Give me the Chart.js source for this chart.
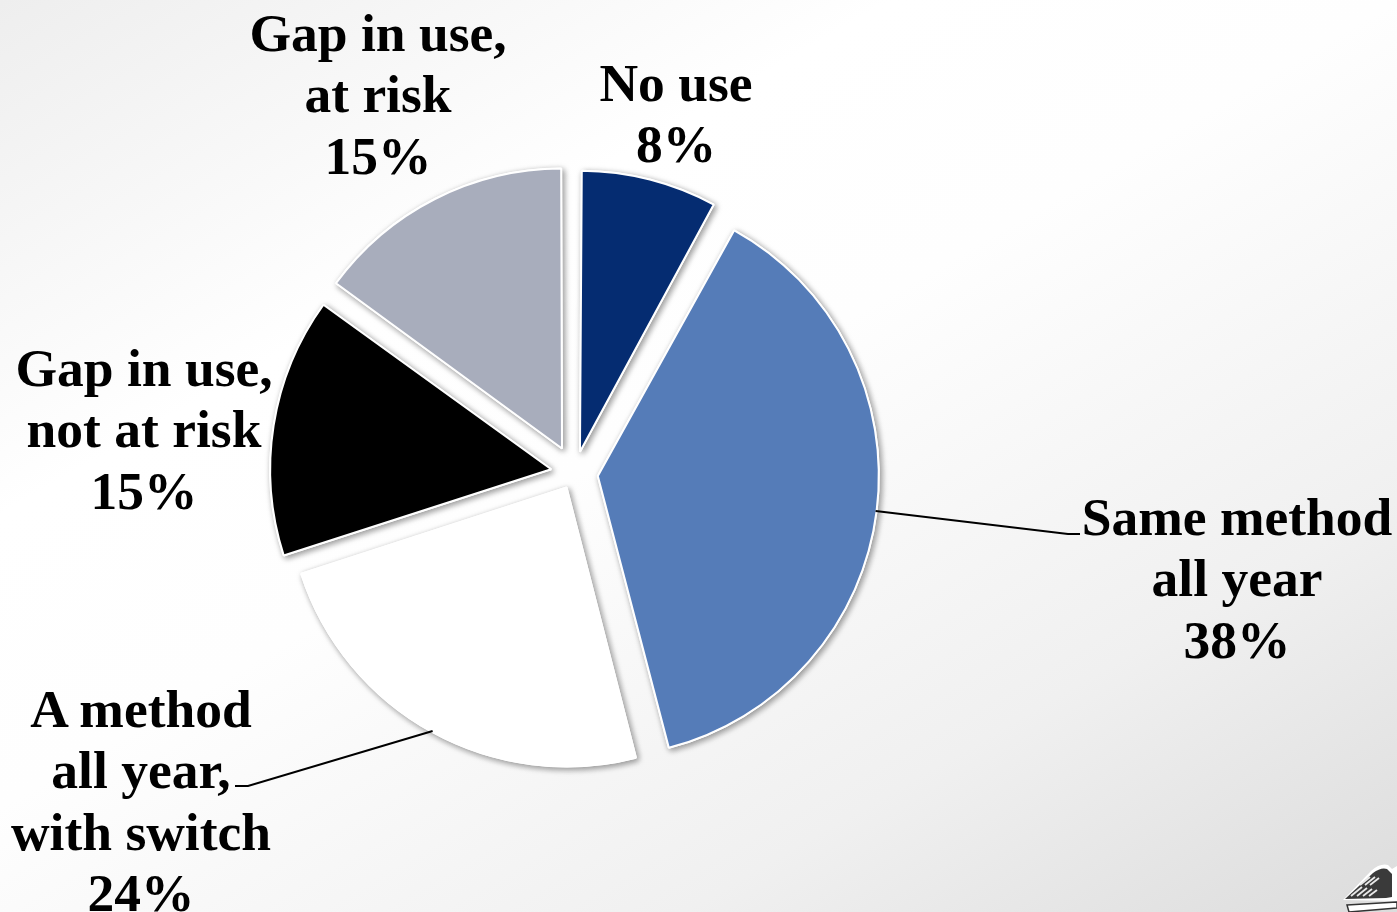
<!DOCTYPE html>
<html>
<head>
<meta charset="utf-8">
<title>Contraceptive use over the year</title>
<script src="https://cdn.jsdelivr.net/npm/chart.js@4/dist/chart.umd.min.js"></script>
<style>
    html, body { margin: 0; padding: 0; width: 1397px; height: 912px; overflow: hidden; }
    #wrap {
        position: relative; width: 1397px; height: 912px;
        background: linear-gradient(150deg, #eeeeee 0%, #ffffff 30%, #fefefe 47%, #f0f0f0 76%, #dcdcdc 100%);
    }
    #emblem { position: absolute; left: 1340px; top: 860px; }
</style>
</head>
<body>
<div id="wrap">
    <canvas id="myChart" width="1397" height="912"></canvas>
    <svg id="emblem" width="57" height="52" viewBox="0 0 57 52">
        <path d="M3 40 L31 11 Q40 3 48 5 L52 9 L57 6 L57 41 Z" fill="#ffffff"/>
        <path d="M5 39 L33 13 Q41 7 47 9 L52 14 L52 37 L46 38 Z" fill="#3a3a3a"/>
        <g stroke="#e8e8e8" stroke-width="1.8">
            <line x1="11" y1="36" x2="22" y2="27"/>
            <line x1="17" y1="36" x2="27" y2="28"/>
            <line x1="23" y1="36" x2="32" y2="29"/>
            <line x1="29" y1="36" x2="37" y2="30"/>
            <line x1="20" y1="25" x2="30" y2="17"/>
            <line x1="25" y1="25" x2="35" y2="17"/>
            <line x1="30" y1="25" x2="39" y2="18"/>
        </g>
        <path d="M7 45 L57 42 L57 48 L9 52 Z" fill="#ffffff" stroke="#333333" stroke-width="1.5"/>
    </svg>
</div>
<script>
// Fatias do gráfico, no sentido horário a partir do topo
const categories = [
    ['No use'],
    ['Same method', 'all year'],
    ['A method', 'all year,', 'with switch'],
    ['Gap in use,', 'not at risk'],
    ['Gap in use,', 'at risk']
];
const percentages = [8, 38, 24, 15, 15];
const sliceColors = ['#052c71', '#557cb8', '#ffffff', '#000000', '#a8adbc'];
const sliceShift = [22, 23.5, 16.5, 23.6, 27.5];
const sliceRadius = [281, 281, 279, 281, 280];

// Centro do texto e linha de base da primeira linha de cada rótulo
const labelAnchors = [
    { x: 676, y: 101 },
    { x: 1237, y: 535 },
    { x: 141, y: 727 },
    { x: 144, y: 386 },
    { x: 378, y: 51 }
];
const labelLineHeight = 61.3;

// Linhas de chamada: fatia de origem e os dois pontos até o rótulo
const leaderLines = [
    { slice: 1, points: [[1068, 534], [1080, 534]] },
    { slice: 2, points: [[248, 786], [235, 786]] }
];

// O arco cresce junto com o offset conforme o ângulo da fatia; o raio é
// compensado aqui para cada fatia ficar com o tamanho certo
const evenRadius = {
    id: 'evenRadius',
    afterDatasetsUpdate(chart) {
        chart.getDatasetMeta(0).data.forEach((arc, i) => {
            const growth = 1 - Math.sin(Math.min(Math.PI, arc.circumference));
            arc.outerRadius = sliceRadius[i] - sliceShift[i] * growth;
        });
    }
};

// Primeira passada só para a sombra; o desenho normal vem por cima e
// cobre a parte que cairia dentro das fatias
const sliceShadow = {
    id: 'sliceShadow',
    beforeDatasetsDraw(chart) {
        const c = chart.ctx;
        c.save();
        c.shadowColor = 'rgba(0,0,0,0.4)';
        c.shadowBlur = 6;
        c.shadowOffsetX = 2;
        c.shadowOffsetY = 2;
        chart.getDatasetMeta(0).data.forEach(arc => arc.draw(c));
        c.restore();
    }
};

// Rótulos e linhas de chamada
const sliceLabels = {
    id: 'sliceLabels',
    afterDraw(chart) {
        const c = chart.ctx;
        const arcs = chart.getDatasetMeta(0).data;
        c.save();

        c.strokeStyle = '#000000';
        c.lineWidth = 2;
        leaderLines.forEach(l => {
            const arc = arcs[l.slice];
            const mid = (arc.startAngle + arc.endAngle) / 2;
            const r = sliceRadius[l.slice] + sliceShift[l.slice] - 1;
            c.beginPath();
            c.moveTo(arc.x + Math.cos(mid) * r, arc.y + Math.sin(mid) * r);
            l.points.forEach(p => c.lineTo(p[0], p[1]));
            c.stroke();
        });

        c.fillStyle = '#000000';
        c.font = 'bold 53.5px "Liberation Serif"';
        c.fontKerning = 'normal';
        c.textAlign = 'center';
        c.textBaseline = 'alphabetic';
        categories.forEach((lines, i) => {
            const a = labelAnchors[i];
            lines.concat(percentages[i] + '%').forEach((t, n) => {
                c.fillText(t, a.x, a.y + n * labelLineHeight);
            });
        });
        c.restore();
    }
};

var ctx = document.getElementById('myChart').getContext('2d');
var myChart = new Chart(ctx, {
    type: 'pie',
    data: {
        labels: categories,
        datasets: [{
            data: percentages,
            backgroundColor: sliceColors,
            borderColor: '#ffffff',
            borderWidth: 2,
            offset: sliceShift.map(d => d * 4)
        }]
    },
    options: {
        responsive: false,
        animation: false,
        radius: 281,
        layout: { padding: { left: 0, right: 248, top: 34, bottom: 0 } },
        plugins: {
            legend: { display: false },
            tooltip: { enabled: false }
        }
    },
    plugins: [evenRadius, sliceShadow, sliceLabels]
});
</script>
</body>
</html>
